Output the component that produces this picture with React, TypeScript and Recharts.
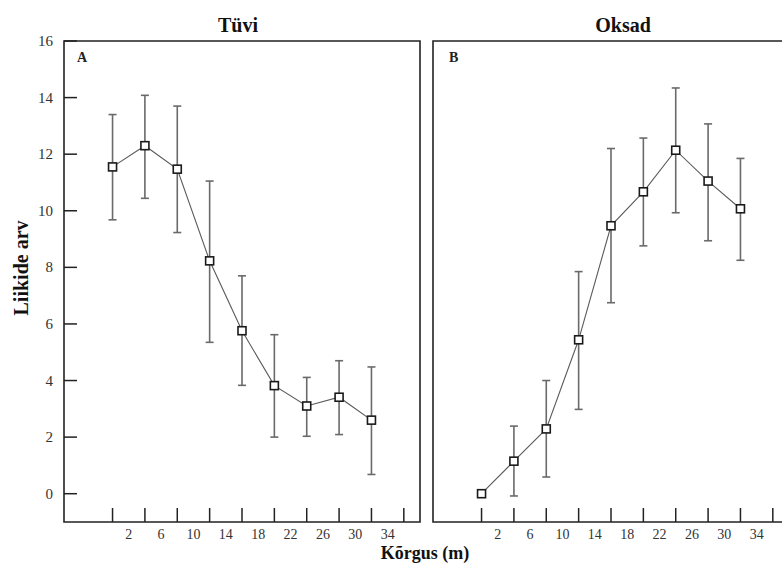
import React from 'react';
import { LineChart, Line, XAxis, YAxis, ErrorBar, ReferenceArea } from 'recharts';

// Height class positions (plotted at tick marks)
const heights = [0, 4, 8, 12, 16, 20, 24, 28, 32];
const xTickMarks = [0, 4, 8, 12, 16, 20, 24, 28, 32, 36];
const xTickLabels = [2, 6, 10, 14, 18, 22, 26, 30, 34];
const yTicks = [0, 2, 4, 6, 8, 10, 12, 14, 16];

// Panel A – Tüvi
const tuviMean = [11.55, 12.3, 11.47, 8.23, 5.76, 3.82, 3.1, 3.41, 2.6];
const tuviLow = [9.68, 10.44, 9.23, 5.35, 3.83, 2.0, 2.03, 2.09, 0.68];
const tuviHigh = [13.4, 14.08, 13.7, 11.05, 7.7, 5.62, 4.11, 4.7, 4.48];

// Panel B – Oksad
const oksadMean = [0, 1.15, 2.29, 5.44, 9.47, 10.67, 12.14, 11.05, 10.07];
const oksadLow = [0, -0.08, 0.59, 2.98, 6.75, 8.76, 9.93, 8.94, 8.25];
const oksadHigh = [0, 2.39, 4.0, 7.85, 12.2, 12.57, 14.34, 13.07, 11.85];

const build = (mean: number[], low: number[], high: number[]) =>
  heights.map((h, i) => ({
    x: h,
    y: mean[i],
    err: [mean[i] - low[i], high[i] - mean[i]],
  }));

const tuviData = build(tuviMean, tuviLow, tuviHigh);
const oksadData = build(oksadMean, oksadLow, oksadHigh);

const FONT = "'Liberation Serif', 'Times New Roman', serif";
const allXTicks = [...xTickMarks, ...xTickLabels].sort((a, b) => a - b);

const XTick = (props: any) => {
  const { x, y, payload } = props;
  const v = payload.value;
  if (xTickLabels.includes(v)) {
    return (
      <text x={x} y={y + 17} textAnchor="middle" fontSize={14} fill="#333" fontFamily={FONT}>
        {v}
      </text>
    );
  }
  return <line x1={x} y1={y} x2={x} y2={y - 14} stroke="#222" strokeWidth={1.5} />;
};

const YTick = (props: any) => {
  const { x, y, payload } = props;
  return (
    <g>
      <line x1={x} y1={y} x2={x + 13} y2={y} stroke="#222" strokeWidth={1.5} />
      <text x={x - 11} y={y + 5} textAnchor="end" fontSize={15} fill="#333" fontFamily={FONT}>
        {payload.value}
      </text>
    </g>
  );
};

const SquareDot = (props: any) => {
  const { cx, cy, index } = props;
  if (cx == null || cy == null) return null;
  return (
    <rect
      key={`d${index}`}
      x={cx - 4}
      y={cy - 4}
      width={8}
      height={8}
      fill="#fff"
      stroke="#1a1a1a"
      strokeWidth={1.6}
    />
  );
};

const Panel = ({ data, showY, width, margin }: any) => (
  <LineChart width={width} height={564} data={data} margin={margin}>
    <XAxis
      dataKey="x"
      type="number"
      domain={[-6, 38]}
      ticks={allXTicks}
      interval={0}
      tick={<XTick />}
      tickSize={0}
      tickMargin={0}
      tickLine={false}
      axisLine={false}
      height={30}
    />
    <YAxis
      type="number"
      domain={[-1, 16]}
      ticks={yTicks}
      interval={0}
      tick={showY ? <YTick /> : false}
      tickSize={0}
      tickMargin={0}
      tickLine={false}
      axisLine={false}
      width={showY ? 40 : 0}
      hide={!showY}
    />
    <ReferenceArea x1={-6} x2={38} y1={-1} y2={16} fill="none" fillOpacity={0} stroke="#222" strokeWidth={1.6} />
    <Line
      dataKey="y"
      stroke="#5a5a5a"
      strokeWidth={1.1}
      isAnimationActive={false}
      dot={<SquareDot />}
      activeDot={false}
    >
      <ErrorBar dataKey="err" width={4} stroke="#6a6a6a" strokeWidth={1.6} direction="y" />
    </Line>
  </LineChart>
);

export default function App() {
  return (
    <div
      style={{
        position: 'absolute',
        left: 0,
        top: 0,
        width: 782,
        height: 564,
        overflow: 'hidden',
        background: '#fff',
      }}
    >
      <div style={{ position: 'absolute', left: 0, top: 0 }}>
        <Panel data={tuviData} showY={true} width={430} margin={{ top: 41, right: 10, bottom: 12, left: 24 }} />
      </div>
      <div style={{ position: 'absolute', left: 400, top: 0 }}>
        <Panel data={oksadData} showY={false} width={400} margin={{ top: 41, right: 11, bottom: 12, left: 33 }} />
      </div>
      <svg
        width={782}
        height={564}
        style={{ position: 'absolute', left: 0, top: 0, pointerEvents: 'none' }}
        fontFamily={FONT}
      >
        <text x={238} y={32} textAnchor="middle" fontSize={20} fontWeight="bold" fill="#111">
          Tüvi
        </text>
        <text x={623} y={32} textAnchor="middle" fontSize={20} fontWeight="bold" fill="#111">
          Oksad
        </text>
        <text x={77} y={62} fontSize={14} fontWeight="bold" fill="#222">
          A
        </text>
        <text x={449} y={62} fontSize={14} fontWeight="bold" fill="#222">
          B
        </text>
        <text transform="translate(28,268) rotate(-90)" textAnchor="middle" fontSize={20} fontWeight="bold" fill="#111">
          Liikide arv
        </text>
        <text x={425} y={559} textAnchor="middle" fontSize={18} fontWeight="bold" fill="#111">
          Kõrgus (m)
        </text>
      </svg>
    </div>
  );
}
